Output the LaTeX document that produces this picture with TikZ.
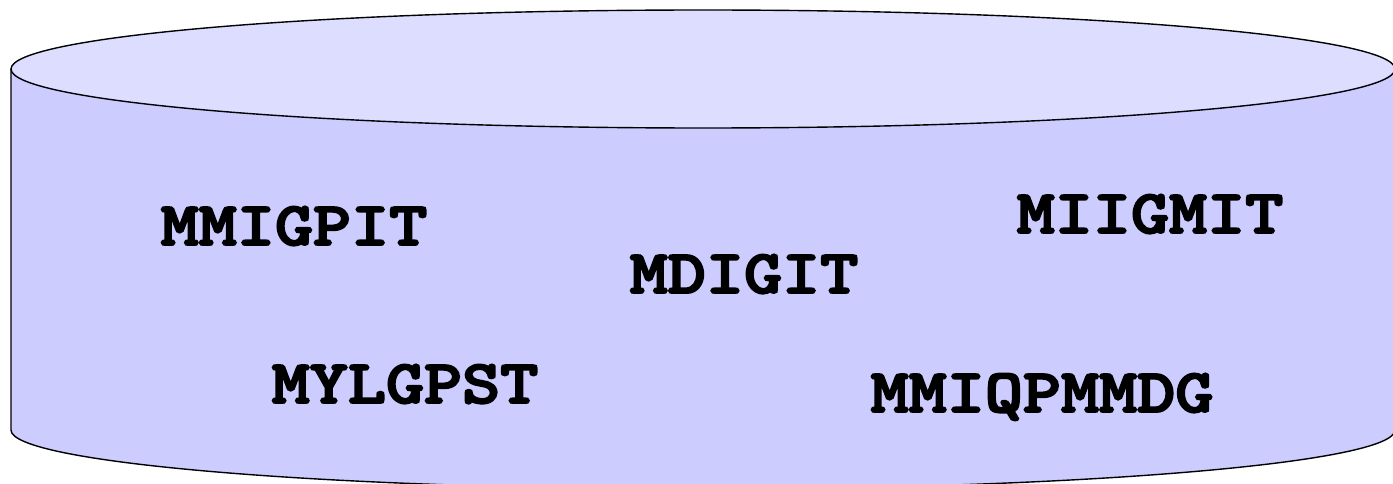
\documentclass[tikz,border=0pt]{standalone}
\usepackage{fontspec}
\usepackage{graphicx}
\newfontfamily\dbfont[FakeBold=3]{lmmonolt10-bold.otf}
\definecolor{sidefill}{HTML}{CCCCFF}
\definecolor{topfill}{HTML}{DDDDFF}
\newcommand{\dbtext}[1]{\scalebox{1.17}[1]{#1}}
\tikzset{
  outline/.style={draw=black, line width=0.7pt},
  dblabel/.style={anchor=base, inner sep=0pt, font=\dbfont\fontsize{31}{36}\selectfont}
}
\begin{document}
\begin{tikzpicture}[x=0.5pt,y=0.5pt]
\useasboundingbox (0,0) rectangle (1393,483);
\clip (0,0) rectangle (1393,483);
% side of cylinder
\fill[sidefill] (11,414) -- (11,53) arc[start angle=180,end angle=360,x radius=692,y radius=59] -- (1395,414) -- cycle;
\draw[outline] (11,414) -- (11,53) arc[start angle=180,end angle=360,x radius=692,y radius=59] -- (1395,414);
% top ellipse
\draw[outline, fill=topfill] (703,414) ellipse[x radius=692, y radius=59];
% labels
\node[dblabel] (mmigpit) at (294,238) {\dbtext{MMIGPIT}};
\node[dblabel] (mdigit) at (744,190) {\dbtext{MDIGIT}};
\node[dblabel] (miigmit) at (1150,250) {\dbtext{MIIGMIT}};
\node[dblabel] (mylgpst) at (405,80) {\dbtext{MYLGPST}};
\node[dblabel] (mmiqpmmdg) at (1042,71) {\dbtext{MMIQPMMDG}};
\end{tikzpicture}
\end{document}
